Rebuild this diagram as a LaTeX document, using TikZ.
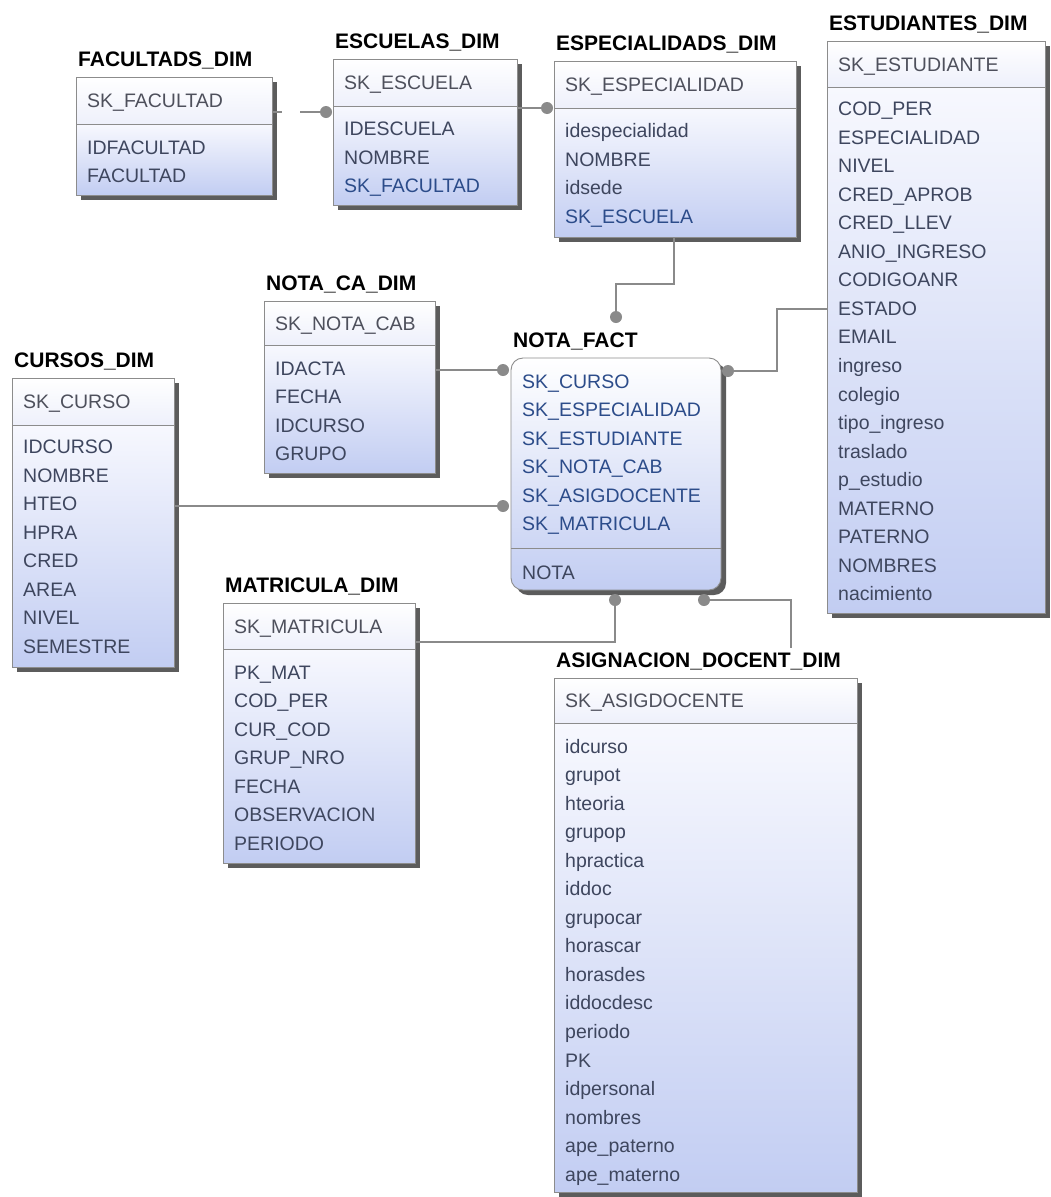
\documentclass[tikz,border=0pt]{standalone}
\usepackage{fontspec}
\setmainfont{Liberation Sans}
\usetikzlibrary{calc}

\definecolor{edge}{RGB}{140,140,140}
\definecolor{wire}{RGB}{138,138,138}
\definecolor{bodytop}{RGB}{247,248,254}
\definecolor{bodybot}{RGB}{194,205,242}
\definecolor{headbot}{RGB}{238,240,251}
\definecolor{attrcol}{RGB}{62,70,94}
\definecolor{fkcol}{RGB}{44,76,138}
\definecolor{pkcol}{RGB}{78,80,92}
\definecolor{shadowcol}{RGB}{92,92,92}

\tikzset{
  x=1pt, y=-1pt,
  tabletitle/.style={anchor=base west, inner sep=0pt, text=black,
    font=\fontsize{21}{24}\selectfont\bfseries},
  headbox/.style={draw=edge, line width=0.9pt, top color=white, bottom color=headbot,
    anchor=north west, inner sep=0pt, outer sep=0pt},
  bodybox/.style={draw=edge, line width=0.9pt, top color=bodytop, bottom color=bodybot,
    anchor=north west, inner sep=0pt, outer sep=0pt},
  factbox/.style={draw=edge, line width=0.9pt, top color=white, bottom color=bodybot,
    rounded corners=12pt, anchor=north west, inner sep=0pt, outer sep=0pt},
  field/.style={anchor=base west, inner sep=0pt, font=\fontsize{19.5}{22}\selectfont},
  attrtxt/.style={text=attrcol},
  fktxt/.style={text=fkcol},
  pktxt/.style={text=pkcol},
  wireline/.style={draw=wire, line width=1.3pt},
  fkdashed/.style={wireline, dash pattern=on 10pt off 18pt on 60pt},
  jdot/.style={circle, fill=wire, inner sep=0pt, minimum size=12pt},
}

% table frame: name, x1, y1, x2, y2, y of header separator, title, key column
\newcommand\ertable[8]{%
  \fill[shadowcol] (#2+5,#3+5) rectangle (#4+5,#5+5);
  \node[headbox, minimum width={#4-#2}, minimum height={#6-#3}] (#1-head) at (#2,#3) {};
  \node[bodybox, minimum width={#4-#2}, minimum height={#5-#6}] (#1) at (#2,#6) {};
  \node[tabletitle] (#1-title) at (#2+2,#3-11) {#7};
  \node[field, pktxt] (#1-key) at (#2+11,{(#3+#6)/2+7}) {#8};
}

% column list: table name, x of text, centre of first row, list of text/style
\newcommand\erfields[4]{%
  \foreach \t/\s [count=\i] in {#4} {
    \node[field, \s] (#1-r\i) at (#2, {#3+7+(\i-1)*28.55}) {\t};
  }%
}

\begin{document}
\begin{tikzpicture}
\useasboundingbox[fill=white] (0,0) rectangle (1050,1197);

% ---------- dimension tables ----------
\ertable{fac}{76}{77}{272}{195}{124}{FACULTADS\_DIM}{SK\_FACULTAD}
\erfields{fac}{87}{147}{IDFACULTAD/attrtxt, FACULTAD/attrtxt}

\ertable{esc}{333}{59}{517}{205}{106}{ESCUELAS\_DIM}{SK\_ESCUELA}
\erfields{esc}{344}{128.5}{IDESCUELA/attrtxt, NOMBRE/attrtxt, SK\_FACULTAD/fktxt}

\ertable{esp}{554}{61}{796}{237}{108}{ESPECIALIDADS\_DIM}{SK\_ESPECIALIDAD}
\erfields{esp}{565}{130.5}{idespecialidad/attrtxt, NOMBRE/attrtxt, idsede/attrtxt, SK\_ESCUELA/fktxt}

\ertable{est}{827}{41}{1045}{613}{87}{ESTUDIANTES\_DIM}{SK\_ESTUDIANTE}
\erfields{est}{838}{108.5}{COD\_PER/attrtxt, ESPECIALIDAD/attrtxt, NIVEL/attrtxt,
  CRED\_APROB/attrtxt, CRED\_LLEV/attrtxt, ANIO\_INGRESO/attrtxt, CODIGOANR/attrtxt,
  ESTADO/attrtxt, EMAIL/attrtxt, ingreso/attrtxt, colegio/attrtxt, tipo\_ingreso/attrtxt,
  traslado/attrtxt, p\_estudio/attrtxt, MATERNO/attrtxt, PATERNO/attrtxt,
  NOMBRES/attrtxt, nacimiento/attrtxt}

\ertable{nca}{264}{301}{435}{473}{345}{NOTA\_CA\_DIM}{SK\_NOTA\_CAB}
\erfields{nca}{275}{368}{IDACTA/attrtxt, FECHA/attrtxt, IDCURSO/attrtxt, GRUPO/attrtxt}

\ertable{cur}{12}{378}{174}{667}{425}{CURSOS\_DIM}{SK\_CURSO}
\erfields{cur}{23}{446.5}{IDCURSO/attrtxt, NOMBRE/attrtxt, HTEO/attrtxt, HPRA/attrtxt,
  CRED/attrtxt, AREA/attrtxt, NIVEL/attrtxt, SEMESTRE/attrtxt}

\ertable{mat}{223}{603}{415}{863}{649}{MATRICULA\_DIM}{SK\_MATRICULA}
\erfields{mat}{234}{672}{PK\_MAT/attrtxt, COD\_PER/attrtxt, CUR\_COD/attrtxt,
  GRUP\_NRO/attrtxt, FECHA/attrtxt, OBSERVACION/attrtxt, PERIODO/attrtxt}

\ertable{asg}{554}{678}{857}{1192}{723}{ASIGNACION\_DOCENT\_DIM}{SK\_ASIGDOCENTE}
\erfields{asg}{565}{746}{idcurso/attrtxt, grupot/attrtxt, hteoria/attrtxt, grupop/attrtxt,
  hpractica/attrtxt, iddoc/attrtxt, grupocar/attrtxt, horascar/attrtxt, horasdes/attrtxt,
  iddocdesc/attrtxt, periodo/attrtxt, PK/attrtxt, idpersonal/attrtxt, nombres/attrtxt,
  ape\_paterno/attrtxt, ape\_materno/attrtxt}

% ---------- fact table ----------
\fill[shadowcol, rounded corners=12pt] (516,363) rectangle (726,595);
\node[factbox, minimum width=210, minimum height=232] (fact) at (511,358) {};
\node[tabletitle] (fact-title) at (513,347) {NOTA\_FACT};
\coordinate (factsep) at (600,548);
\draw[draw=edge, line width=0.9pt] (fact.west |- factsep) -- (fact.east |- factsep);
\erfields{fact}{522}{381}{SK\_CURSO/fktxt, SK\_ESPECIALIDAD/fktxt, SK\_ESTUDIANTE/fktxt,
  SK\_NOTA\_CAB/fktxt, SK\_ASIGDOCENTE/fktxt, SK\_MATRICULA/fktxt}
\node[field, attrtxt] (fact-nota) at (522,579) {NOTA};

% ---------- relationship ends ----------
\node[jdot] (d1) at (326,112) {};
\node[jdot] (d2) at (547,108) {};
\node[jdot] (d3) at (616,317) {};
\node[jdot] (d4) at (503,370) {};
\node[jdot] (d5) at (503,506) {};
\node[jdot] (d6) at (728,371) {};
\node[jdot] (d7) at (615,600) {};
\node[jdot] (d8) at (704,600) {};

\coordinate (b3) at (674,284);
\coordinate (b6) at (777,309);
\coordinate (b7) at (615,642);
\coordinate (b8) at (791,600);

% ---------- connectors ----------
\draw[fkdashed] (fac.east |- d1) -- (d1);
\draw[wireline] (esc.east |- d2) -- (d2);
\draw[wireline] (b3 |- esp.south) -- (b3) -| (d3);
\draw[wireline] (nca.east |- d4) -- (d4);
\draw[wireline] (cur.east |- d5) -- (d5);
\draw[wireline] (d6) -| (b6) -- (b6 -| est.west);
\draw[wireline] (d7) -- (b7) -- (b7 -| mat.east);
\draw[wireline] (d8) -- (b8) -- ([yshift=4pt]b8 |- asg-title.north);
\end{tikzpicture}
\end{document}
